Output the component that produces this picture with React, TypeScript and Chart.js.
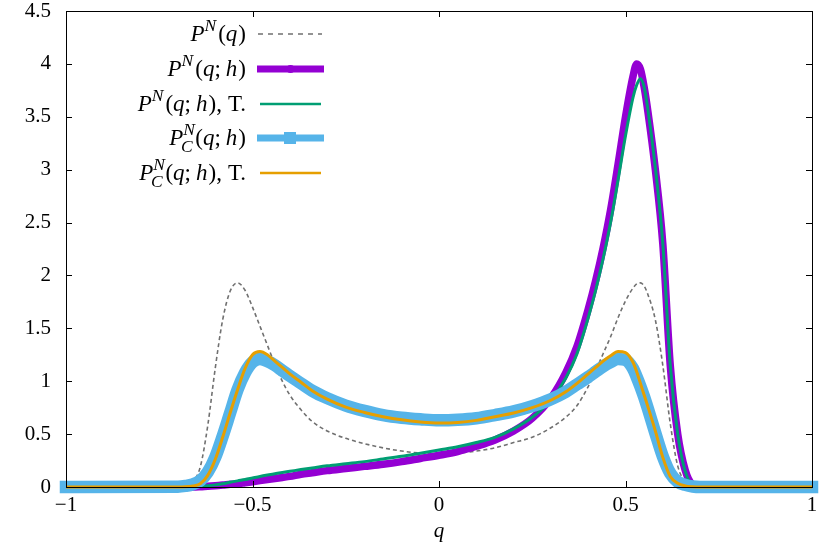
import React, { useEffect, useRef } from 'react';
import { Chart, registerables } from 'chart.js';

Chart.register(...registerables);

// q grid shared by all series
const qGrid = [
  -1, -0.7, -0.68, -0.66, -0.64, -0.62, -0.6, -0.58, -0.56, -0.54,
  -0.52, -0.5, -0.48, -0.46, -0.44, -0.42, -0.4, -0.37, -0.34, -0.3,
  -0.25, -0.2, -0.15, -0.1, -0.05, 0, 0.05, 0.1, 0.15, 0.2,
  0.25, 0.3, 0.34, 0.37, 0.4, 0.42, 0.44, 0.46, 0.48, 0.5,
  0.52, 0.53, 0.54, 0.55, 0.56, 0.58, 0.6, 0.62, 0.64, 0.66,
  0.68, 0.7, 1,
];

// P^N(q)
const pN = [
  0, 0, 0.01, 0.05, 0.19, 0.58, 1.12, 1.58, 1.85, 1.93,
  1.86, 1.7, 1.52, 1.34, 1.16, 1.0, 0.87, 0.73, 0.62, 0.53,
  0.46, 0.41, 0.37, 0.34, 0.32, 0.31, 0.32, 0.34, 0.37, 0.42,
  0.47, 0.56, 0.66, 0.77, 0.95, 1.1, 1.26, 1.42, 1.6, 1.76,
  1.88, 1.92, 1.93, 1.9, 1.82, 1.58, 1.15, 0.6, 0.2, 0.05,
  0.01, 0, 0,
];

// P^N(q;h)
const pNh = [
  0, 0, 0, 0, 0.003, 0.008, 0.012, 0.018, 0.025, 0.03,
  0.04, 0.05, 0.06, 0.07, 0.08, 0.09, 0.1, 0.12, 0.135, 0.155,
  0.175, 0.195, 0.215, 0.24, 0.27, 0.3, 0.335, 0.385, 0.445, 0.53,
  0.65, 0.84, 1.08, 1.33, 1.68, 1.95, 2.26, 2.62, 3.05, 3.5,
  3.88, 4.0, 3.95, 3.78, 3.55, 3.0, 2.3, 1.15, 0.5, 0.16,
  0.02, 0, 0,
];

// P^N(q;h), T.
const pNhT = [
  0, 0, 0, 0.002, 0.006, 0.012, 0.02, 0.03, 0.045, 0.058,
  0.07, 0.085, 0.1, 0.113, 0.125, 0.137, 0.148, 0.165, 0.18, 0.2,
  0.22, 0.24, 0.265, 0.29, 0.32, 0.35, 0.38, 0.42, 0.47, 0.55,
  0.66, 0.82, 1.03, 1.26, 1.6, 1.86, 2.16, 2.5, 2.9, 3.32,
  3.68, 3.8, 3.86, 3.78, 3.57, 3.02, 2.3, 1.15, 0.5, 0.15,
  0.015, 0, 0,
];

// P_C^N(q;h)
const pC = [
  0, 0.003, 0.01, 0.025, 0.06, 0.14, 0.28, 0.48, 0.7, 0.92,
  1.08, 1.18, 1.21, 1.19, 1.15, 1.1, 1.05, 0.98, 0.91, 0.84,
  0.77, 0.72, 0.68, 0.655, 0.64, 0.63, 0.635, 0.65, 0.68, 0.715,
  0.765, 0.83, 0.9, 0.97, 1.04, 1.09, 1.14, 1.18, 1.21, 1.2,
  1.12, 1.04, 0.95, 0.85, 0.74, 0.51, 0.29, 0.13, 0.05, 0.02,
  0.005, 0, 0,
];

// P_C^N(q;h), T.
const pCT = [
  0, 0, 0.002, 0.01, 0.03, 0.11, 0.26, 0.47, 0.7, 0.92,
  1.12, 1.25, 1.28, 1.25, 1.19, 1.13, 1.07, 0.99, 0.91, 0.83,
  0.755, 0.705, 0.665, 0.635, 0.615, 0.605, 0.61, 0.63, 0.665, 0.7,
  0.75, 0.82, 0.9, 0.98, 1.07, 1.13, 1.19, 1.24, 1.28, 1.27,
  1.18, 1.09, 0.98, 0.87, 0.76, 0.53, 0.28, 0.1, 0.035, 0.01,
  0.002, 0, 0,
];

const xTicks = [-1, -0.5, 0, 0.5, 1];
const yTicks = [0, 0.5, 1, 1.5, 2, 2.5, 3, 3.5, 4, 4.5];

const FONT = "'Liberation Serif', 'Times New Roman', serif";

const toPts = (arr: number[]) => qGrid.map((q, i) => ({ x: q, y: arr[i] }));
const fmt = (v: number | string) => String(v).replace('-', '\u2212');

const framePlugin = {
  id: 'frame',
  afterDatasetsDraw(chart: any) {
    const { ctx, chartArea, scales } = chart;
    const { left, right, top, bottom } = chartArea;
    const x = scales.x;
    const y = scales.y;
    const tl = 6;
    ctx.save();
    ctx.strokeStyle = '#000';
    ctx.lineWidth = 1;
    ctx.beginPath();
    for (const v of xTicks) {
      const px = Math.round(x.getPixelForValue(v)) + 0.5;
      ctx.moveTo(px, bottom);
      ctx.lineTo(px, bottom - tl);
      ctx.moveTo(px, top);
      ctx.lineTo(px, top + tl);
    }
    for (const v of yTicks) {
      const py = Math.round(y.getPixelForValue(v)) + 0.5;
      ctx.moveTo(left, py);
      ctx.lineTo(left + tl, py);
      ctx.moveTo(right, py);
      ctx.lineTo(right - tl, py);
    }
    ctx.stroke();
    ctx.strokeRect(Math.round(left) + 0.5, Math.round(top) + 0.5, Math.round(right - left), Math.round(bottom - top));
    ctx.restore();
  },
};

const supStyle = { fontSize: '0.76em', position: 'relative' as const, top: '-0.6em', fontStyle: 'italic' };
const Sup = ({ c }: { c: string }) => <span style={{ ...supStyle, marginRight: 1 }}>{c}</span>;
const SubSup = ({ sub, sup }: { sub: string; sup: string }) => (
  <>
    <span style={supStyle}>{sup}</span>
    <span style={{ ...supStyle, top: '0.4em', marginLeft: '-0.8em', marginRight: '0.1em' }}>{sub}</span>
  </>
);
const I = ({ c }: { c: string }) => <i>{c}</i>;
const Args = ({ h }: { h: boolean }) => (
  <>
    <span style={{ marginLeft: 1 }}>(</span>
    <I c="q" />
    {h ? (
      <>
        ;<span style={{ marginLeft: 5 }} />
        <I c="h" />
      </>
    ) : null}
    <span style={{ marginLeft: 1 }}>)</span>
  </>
);
const Tail = () => (
  <>
    ,<span style={{ marginLeft: 6 }} />T.
  </>
);

const legendRows = [
  { cy: 34, label: <><I c="P" /><Sup c="N" /><Args h={false} /></>, sample: 'dash' },
  { cy: 69, label: <><I c="P" /><Sup c="N" /><Args h={true} /></>, sample: 'purple' },
  { cy: 104, label: <><I c="P" /><Sup c="N" /><Args h={true} /><Tail /></>, sample: 'green' },
  { cy: 138, label: <><I c="P" /><SubSup sub="C" sup="N" /><Args h={true} /></>, sample: 'blue' },
  { cy: 173, label: <><I c="P" /><SubSup sub="C" sup="N" /><Args h={true} /><Tail /></>, sample: 'orange' },
];

const Sample = ({ kind }: { kind: string }) => {
  const w = 70;
  const h = 20;
  const m = h / 2;
  if (kind === 'dash')
    return (
      <svg width={w} height={h}>
        <line x1={2} y1={m} x2={66} y2={m} stroke="#707070" strokeWidth={1.5} strokeDasharray="5,5" />
      </svg>
    );
  if (kind === 'purple')
    return (
      <svg width={w} height={h}>
        <line x1={1} y1={m} x2={68} y2={m} stroke="#9400D3" strokeWidth={7} />
        <circle cx={34.5} cy={m} r={4} fill="#9400D3" />
      </svg>
    );
  if (kind === 'green')
    return (
      <svg width={w} height={h}>
        <line x1={4} y1={m} x2={65} y2={m} stroke="#009E73" strokeWidth={2.5} />
      </svg>
    );
  if (kind === 'blue')
    return (
      <svg width={w} height={h}>
        <line x1={1} y1={m} x2={68} y2={m} stroke="#56B4E9" strokeWidth={7} />
        <rect x={28} y={m - 6} width={12} height={12} fill="#56B4E9" />
      </svg>
    );
  return (
    <svg width={w} height={h}>
      <line x1={4} y1={m} x2={65} y2={m} stroke="#E69F00" strokeWidth={2.5} />
    </svg>
  );
};

export default function App() {
  const ref = useRef<HTMLCanvasElement>(null);

  useEffect(() => {
    const common = { pointRadius: 0, cubicInterpolationMode: 'monotone', clip: 8, borderJoinStyle: 'round' };
    const chart = new Chart(ref.current!, {
      type: 'line',
      data: {
        datasets: [
          { ...common, label: 'P^N(q)', data: toPts(pN), borderColor: '#707070', borderWidth: 1.6, borderDash: [4, 3], order: 4 },
          { ...common, label: 'P^N(q;h)', data: toPts(pNh), borderColor: '#9400D3', borderWidth: 7.5, order: 3 },
          { ...common, label: 'P^N(q;h), T.', data: toPts(pNhT), borderColor: '#009E73', borderWidth: 3, order: 2 },
          { ...common, label: 'P_C^N(q;h)', data: toPts(pC), borderColor: '#56B4E9', borderWidth: 12.5, borderCapStyle: 'square', order: 1 },
          { ...common, label: 'P_C^N(q;h), T.', data: toPts(pCT), borderColor: '#E69F00', borderWidth: 3, order: 0 },
        ] as any,
      },
      options: {
        animation: false,
        responsive: false,
        devicePixelRatio: 1,
        layout: { padding: { left: 0, right: 18, top: 11, bottom: 0 } },
        plugins: { legend: { display: false }, tooltip: { enabled: false } },
        scales: {
          x: {
            type: 'linear',
            min: -1,
            max: 1,
            grid: { display: false, drawTicks: false },
            border: { display: false },
            ticks: {
              stepSize: 0.5,
              autoSkip: false,
              maxRotation: 0,
              padding: 6,
              color: '#000',
              font: { family: FONT, size: 21 },
              callback: (v: any) => fmt(v),
            },
            title: {
              display: true,
              text: 'q',
              color: '#000',
              font: { family: FONT, size: 21, style: 'italic' },
              padding: { top: 0, bottom: 10 },
            },
            afterFit: (s: any) => {
              s.height = 67;
              s.paddingLeft = 0;
              s.paddingRight = 0;
            },
          },
          y: {
            type: 'linear',
            min: 0,
            max: 4.5,
            grid: { display: false, drawTicks: false },
            border: { display: false },
            ticks: {
              stepSize: 0.5,
              autoSkip: false,
              padding: 15,
              color: '#000',
              font: { family: FONT, size: 21 },
              callback: (v: any) => fmt(v),
            },
            afterFit: (s: any) => {
              s.width = 66;
              s.paddingTop = 0;
              s.paddingBottom = 0;
            },
          },
        },
      } as any,
      plugins: [framePlugin],
    });
    return () => chart.destroy();
  }, []);

  return (
    <div style={{ position: 'fixed', left: 0, top: 0, width: 830, height: 554, background: '#fff', overflow: 'hidden' }}>
      <canvas ref={ref} width={830} height={554} style={{ position: 'absolute', left: 0, top: 0, width: 830, height: 554 }} />
      {legendRows.map((r, i) => (
        <div key={i}>
          <div
            style={{
              position: 'absolute',
              left: 0,
              width: 246,
              top: r.cy - 15,
              height: 30,
              lineHeight: '30px',
              textAlign: 'right',
              fontFamily: FONT,
              fontSize: 23,
              color: '#000',
              whiteSpace: 'nowrap',
            }}
          >
            {r.label}
          </div>
          <div style={{ position: 'absolute', left: 256, top: r.cy - 10, height: 20 }}>
            <Sample kind={r.sample} />
          </div>
        </div>
      ))}
    </div>
  );
}
